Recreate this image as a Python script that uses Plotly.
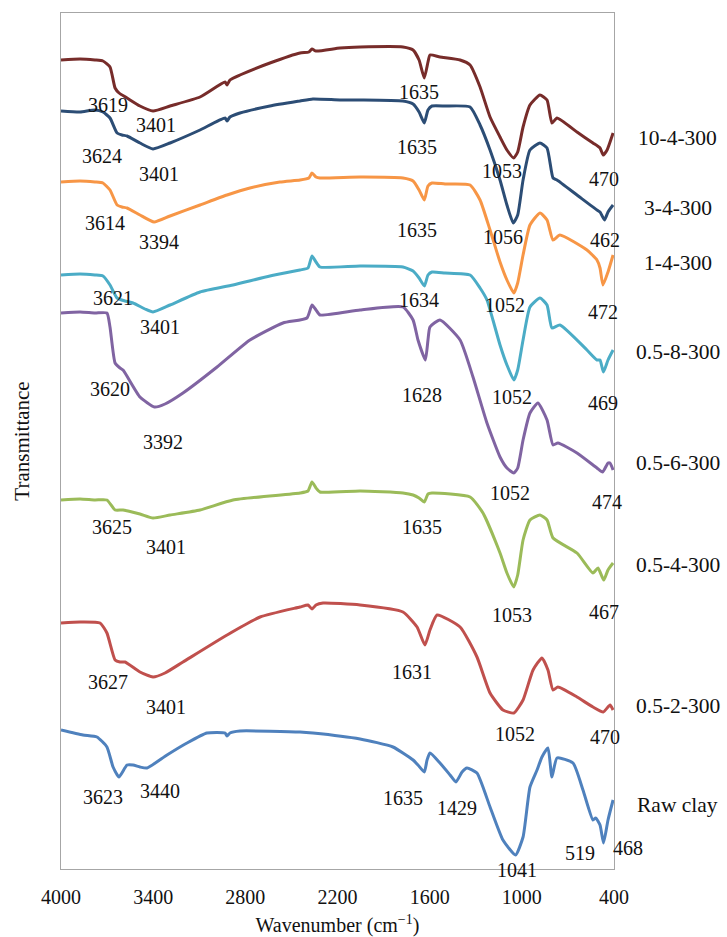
import plotly.graph_objects as go

# ---------------- data (wavenumber cm-1, transmittance in arbitrary stacked units) ----------------
series_names = ["10-4-300", "3-4-300", "1-4-300", "0.5-8-300",
                "0.5-6-300", "0.5-4-300", "0.5-2-300", "Raw clay"]

wn_10_4 = [4000, 3876, 3779, 3727, 3681, 3648, 3622, 3570, 3486, 3401, 3290, 3095, 2932, 2919, 2900,
           2835, 2640, 2444, 2386, 2366, 2340, 2184, 2053, 1774, 1708, 1669, 1635, 1611, 1598, 1533,
           1402, 1337, 1272, 1207, 1142, 1097, 1053, 1027, 992, 947, 882, 836, 804, 771, 641, 537,
           491, 470, 445, 406]
t_10_4 = [809, 810, 809, 808, 802, 781, 776, 771, 763, 758, 763, 772, 787, 784, 789,
          794, 806, 816, 817, 820, 818, 821, 822, 822, 819, 809, 791, 807, 814, 812,
          809, 804, 782, 752, 732, 719, 711, 717, 742, 764, 774, 769, 746, 751, 737, 726,
          721, 714, 719, 736]

wn_3_4 = [4000, 3876, 3779, 3727, 3681, 3635, 3603, 3570, 3486, 3401, 3290, 3095, 2932, 2919, 2900,
          2835, 2640, 2444, 2360, 2184, 2053, 1774, 1708, 1669, 1635, 1611, 1585, 1500, 1337, 1272,
          1207, 1142, 1097, 1056, 1027, 992, 947, 882, 836, 797, 771, 641, 511, 491, 462, 439, 406]
t_3_4 = [758, 757, 759, 757, 751, 736, 734, 733, 726, 720, 726, 739, 751, 748, 752,
         756, 763, 768, 770, 769, 769, 768, 765, 757, 746, 759, 763, 763, 762, 744,
         719, 689, 664, 646, 654, 689, 719, 726, 721, 691, 689, 674, 659, 657, 649, 657, 664]

wn_1_4 = [4000, 3876, 3779, 3727, 3681, 3635, 3603, 3570, 3486, 3394, 3290, 3095, 2919, 2770, 2575,
          2444, 2386, 2366, 2340, 2314, 2053, 1774, 1708, 1669, 1635, 1611, 1585, 1500, 1337, 1272,
          1207, 1142, 1097, 1052, 1027, 992, 947, 882, 836, 797, 752, 576, 511, 491, 472, 439, 406]
t_1_4 = [687, 688, 687, 686, 679, 664, 662, 661, 654, 647, 653, 664, 674, 681, 687,
         689, 691, 696, 692, 691, 692, 691, 688, 679, 669, 683, 686, 685, 684, 669,
         639, 607, 589, 576, 586, 614, 644, 656, 649, 629, 634, 619, 609, 601, 584, 597, 614]

wn_05_8 = [4000, 3876, 3779, 3727, 3681, 3635, 3583, 3531, 3453, 3401, 3290, 3095, 2880, 2640, 2444,
           2392, 2366, 2340, 2314, 2053, 1774, 1708, 1669, 1634, 1611, 1585, 1500, 1337, 1272, 1227,
           1188, 1142, 1097, 1052, 1027, 992, 947, 882, 836, 804, 752, 576, 511, 491, 469, 439, 406]
t_05_8 = [594, 595, 594, 593, 584, 571, 568, 566, 560, 557, 564, 577, 584, 593, 599,
          601, 613, 607, 602, 603, 602, 598, 591, 583, 594, 597, 596, 594, 581, 569,
          549, 524, 504, 489, 499, 529, 562, 571, 564, 541, 544, 519, 509, 509, 497, 509, 519]

wn_05_6 = [4000, 3876, 3779, 3701, 3681, 3648, 3616, 3596, 3486, 3392, 3323, 3206, 2984, 2770, 2555,
           2399, 2366, 2340, 2314, 2053, 1774, 1708, 1676, 1628, 1611, 1598, 1533, 1402, 1318, 1227,
           1142, 1097, 1052, 1027, 992, 947, 895, 836, 797, 765, 641, 511, 474, 439, 426, 406]
t_05_6 = [556, 557, 556, 556, 542, 506, 501, 499, 472, 462, 465, 476, 502, 529, 546,
          551, 564, 559, 554, 559, 562, 549, 529, 509, 529, 542, 549, 529, 492, 446,
          412, 401, 396, 401, 429, 456, 466, 449, 424, 426, 416, 401, 397, 406, 406, 399]

wn_05_4 = [4000, 3876, 3779, 3701, 3648, 3596, 3486, 3401, 3290, 3095, 2880, 2444, 2392, 2366, 2340,
           2314, 2053, 1774, 1708, 1669, 1635, 1611, 1585, 1337, 1253, 1142, 1097, 1053, 1027, 992,
           947, 882, 836, 797, 641, 537, 504, 467, 439, 406]
t_05_4 = [369, 370, 369, 369, 359, 359, 355, 351, 354, 359, 369, 376, 378, 387, 381,
          377, 378, 376, 374, 371, 367, 375, 376, 372, 356, 316, 296, 282, 294, 329,
          349, 354, 349, 331, 316, 296, 301, 289, 299, 306]

wn_05_2 = [4000, 3876, 3746, 3701, 3648, 3616, 3583, 3486, 3401, 3323, 3206, 2919, 2704, 2444, 2392,
           2366, 2340, 2294, 2053, 1774, 1682, 1631, 1598, 1552, 1402, 1292, 1207, 1123, 1052, 992,
           927, 869, 830, 797, 765, 641, 537, 470, 426, 406]
t_05_2 = [246, 247, 246, 236, 209, 207, 207, 197, 192, 196, 207, 234, 252, 262, 264,
          260, 264, 266, 264, 257, 242, 224, 239, 254, 242, 212, 176, 159, 156, 169,
          199, 211, 199, 179, 182, 172, 162, 157, 164, 159]

wn_raw = [4000, 3857, 3766, 3701, 3661, 3623, 3570, 3531, 3486, 3440, 3310, 3180, 3050, 2932, 2919,
          2900, 2835, 2444, 2360, 2053, 1839, 1708, 1676, 1635, 1617, 1598, 1533, 1467, 1429, 1389,
          1357, 1292, 1207, 1123, 1041, 992, 947, 901, 869, 830, 804, 771, 667, 602, 537, 519,
          491, 468, 439, 406]
t_raw = [139, 134, 132, 122, 102, 92, 104, 104, 102, 101, 114, 126, 136, 136, 133,
         136, 138, 137, 136, 130, 122, 109, 104, 97, 109, 116, 106, 94, 87, 97,
         101, 96, 62, 29, 14, 32, 82, 99, 112, 121, 92, 111, 106, 79, 49, 51,
         44, 26, 49, 69]

x_ticks = [4000, 3400, 2800, 2200, 1600, 1000, 400]

# peak labels: (text, wavenumber position, transmittance position)
peak_labels = [
    ("3619", 3694, 764), ("3401", 3382, 744), ("1635", 1669, 777), ("1053", 1129, 698), ("470", 465, 690),
    ("3624", 3733, 713), ("3401", 3362, 695), ("1635", 1682, 722), ("1056", 1123, 632), ("462", 459, 629),
    ("3614", 3714, 646), ("3394", 3362, 627), ("1635", 1682, 639), ("1052", 1110, 564), ("472", 472, 557),
    ("3621", 3661, 571), ("3401", 3355, 542), ("1634", 1669, 569), ("1052", 1064, 472), ("469", 472, 466),
    ("3620", 3681, 480), ("3392", 3336, 427), ("1628", 1650, 474), ("1052", 1077, 376), ("474", 446, 367),
    ("3625", 3668, 342), ("3401", 3316, 322), ("1635", 1650, 342), ("1053", 1064, 254), ("467", 465, 257),
    ("3627", 3694, 187), ("3401", 3316, 162), ("1631", 1715, 197), ("1052", 1044, 135), ("470", 459, 132),
    ("3623", 3727, 72), ("3440", 3355, 78), ("1635", 1774, 71), ("1429", 1422, 61),
    ("519", 621, 16),
]
# labels that sit just outside the axis range (anchored at range edge, shifted in pixels)
edge_labels = [("1041", 1031, 0, 0, -1), ("468", 400, 21, 14, 0)]
name_label_y = [731, 661, 606, 517, 406, 304, 163, 64]

# ---------------- styling ----------------
colors = ["#772C2A", "#2C4D75", "#F79646", "#4BACC6", "#8064A2", "#9BBB59", "#C0504D", "#4F81BD"]
FONT = "Liberation Serif"
TXT = dict(family=FONT, size=20, color="#111111")
NAME_TXT = dict(family=FONT, size=21.5, color="#111111")
TITLE_TXT = dict(family=FONT, size=21, color="#111111")

xs = [wn_10_4, wn_3_4, wn_1_4, wn_05_8, wn_05_6, wn_05_4, wn_05_2, wn_raw]
ys = [t_10_4, t_3_4, t_1_4, t_05_8, t_05_6, t_05_4, t_05_2, t_raw]

fig = go.Figure()
for name, x, y, c in zip(series_names, xs, ys, colors):
    fig.add_trace(go.Scatter(x=x, y=y, mode="lines", name=name,
                             line=dict(color=c, width=3, shape="spline", smoothing=0.5),
                             showlegend=False))

annotations = []
for txt, xw, yv in peak_labels:
    annotations.append(dict(x=xw, y=yv, xref="x", yref="y", text=txt, showarrow=False,
                            font=TXT, xanchor="center", yanchor="middle"))
for txt, xw, yv, dx, dy in edge_labels:
    annotations.append(dict(x=xw, y=yv, xref="x", yref="y", text=txt, showarrow=False,
                            xshift=dx, yshift=dy, font=TXT, xanchor="center", yanchor="middle"))
for name, yv in zip(series_names, name_label_y):
    annotations.append(dict(x=1.1157, y=yv, xref="paper", yref="y", text=name, showarrow=False,
                            font=NAME_TXT, xanchor="center", yanchor="middle"))

fig.update_layout(
    width=727, height=937,
    margin=dict(l=61, r=113, t=13, b=68, autoexpand=False),
    paper_bgcolor="white", plot_bgcolor="white",
    font=TXT,
    annotations=annotations,
)
fig.update_xaxes(range=[4000, 400], tickvals=x_ticks, ticktext=[str(v) for v in x_ticks],
                 showline=True, linecolor="#A6A6A6", linewidth=1, mirror=True, automargin=False,
                 showgrid=False, zeroline=False, ticks="outside", ticklen=10,
                 tickcolor="rgba(0,0,0,0)", tickfont=TXT,
                 title=dict(text="Wavenumber (cm<sup>−1</sup>)", standoff=14, font=TXT))
fig.update_yaxes(range=[0, 856], showticklabels=False, showline=True, linecolor="#A6A6A6",
                 linewidth=1, mirror=True, showgrid=False, zeroline=False, ticks="", automargin=False,
                 title=dict(text="Transmittance", standoff=24, font=TITLE_TXT))

fig.write_html("out.html")
